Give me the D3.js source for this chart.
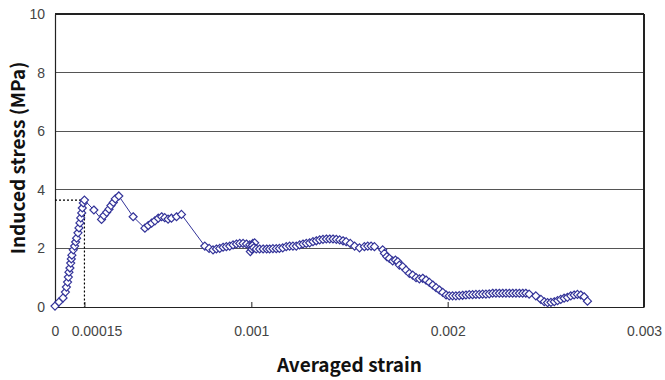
<!DOCTYPE html>
<html>
<head>
<meta charset="utf-8">
<script src="https://cdn.jsdelivr.net/npm/d3@7"></script>
<style>
  html, body { margin: 0; padding: 0; background: #fff; }
  svg { display: block; }
</style>
</head>
<body>
<svg id="chart" width="665" height="380"></svg>
<script>
// Averaged strain (x) and induced stress in MPa (y), in test order
const strain = [
  0, 0.000020, 0.000041, 0.000053, 0.000058, 0.000064, 0.000068, 0.000071, 0.000076, 0.000080,
  0.000083, 0.000086, 0.000093, 0.000100, 0.000105, 0.000110, 0.000117, 0.000122, 0.000127, 0.000131,
  0.000136, 0.000139, 0.000144, 0.000150,
  0.000198, 0.000237, 0.000249, 0.000263, 0.000275, 0.000285, 0.000297, 0.000307, 0.000325,
  0.000398, 0.000458, 0.000475, 0.000492, 0.000509, 0.000526, 0.000543, 0.000559, 0.000576, 0.000593,
  0.000619, 0.000644,
  0.000763, 0.000785, 0.000805, 0.000822, 0.000839, 0.000856, 0.000873, 0.000890, 0.000907, 0.000924,
  0.000941, 0.000958, 0.000975, 0.000992, 0.001008, 0.001017, 0.001005, 0.000995, 0.001003, 0.001012,
  0.001025, 0.001042, 0.001060, 0.001078, 0.001093, 0.001110, 0.001127, 0.001143, 0.001160, 0.001178,
  0.001195, 0.001212, 0.001229, 0.001246, 0.001263, 0.001280, 0.001297, 0.001314, 0.001331, 0.001348,
  0.001365, 0.001382, 0.001399, 0.001416, 0.001433, 0.001450, 0.001467, 0.001483, 0.001504, 0.001526,
  0.001551, 0.001576, 0.001593, 0.001610, 0.001627,
  0.001669, 0.001678, 0.001690, 0.001703, 0.001720, 0.001734, 0.001746, 0.001754, 0.001771, 0.001788,
  0.001805, 0.001822, 0.001839, 0.001856, 0.001873, 0.001890, 0.001907, 0.001924, 0.001941, 0.001958,
  0.001975, 0.001992,
  0.002008, 0.002025, 0.002042, 0.002059, 0.002076, 0.002093, 0.002110, 0.002127, 0.002144, 0.002161,
  0.002178, 0.002195, 0.002212, 0.002229, 0.002246, 0.002263, 0.002280, 0.002297, 0.002314, 0.002331,
  0.002348, 0.002365, 0.002382, 0.002398, 0.002415, 0.002449, 0.002475, 0.002492, 0.002509, 0.002526,
  0.002543, 0.002560, 0.002576, 0.002593, 0.002610, 0.002627, 0.002644, 0.002661, 0.002678, 0.002695,
  0.002712
];
const stress = [
  0.03, 0.17, 0.31, 0.51, 0.68, 0.85, 1.02, 1.19, 1.33, 1.50,
  1.64, 1.77, 1.95, 2.08, 2.22, 2.35, 2.53, 2.70, 2.87, 3.04,
  3.21, 3.38, 3.55, 3.65,
  3.31, 2.99, 3.12, 3.23, 3.34, 3.46, 3.57, 3.69, 3.79,
  3.08, 2.69, 2.78, 2.86, 2.94, 3.03, 3.08, 3.05, 3.00, 3.03,
  3.08, 3.16,
  2.08, 2.00, 1.95, 1.98, 2.00, 2.04, 2.06, 2.08, 2.12, 2.15,
  2.17, 2.17, 2.15, 2.12, 2.17, 2.19, 2.10, 1.89, 1.97, 2.02,
  1.98, 1.98, 1.98, 1.98, 1.98, 1.99, 1.99, 2.00, 2.02, 2.06,
  2.08, 2.08, 2.08, 2.12, 2.15, 2.17, 2.19, 2.23, 2.26, 2.29,
  2.31, 2.32, 2.32, 2.32, 2.31, 2.29, 2.26, 2.23, 2.17, 2.08,
  2.02, 2.06, 2.08, 2.08, 2.06,
  1.95, 1.83, 1.72, 1.66, 1.57, 1.60, 1.55, 1.43, 1.38, 1.26,
  1.15, 1.09, 1.00, 0.96, 0.98, 0.92, 0.84, 0.75, 0.66, 0.58,
  0.50, 0.41,
  0.38, 0.38, 0.38, 0.39, 0.40, 0.41, 0.42, 0.42, 0.43, 0.43,
  0.44, 0.44, 0.45, 0.47, 0.47, 0.47, 0.47, 0.47, 0.47, 0.47,
  0.47, 0.47, 0.47, 0.47, 0.44, 0.38, 0.26, 0.18, 0.15, 0.16,
  0.18, 0.22, 0.26, 0.30, 0.33, 0.38, 0.41, 0.43, 0.41, 0.35,
  0.20
];

// Axis ticks and the marked peak (strain at peak, peak stress)
const xTicks = [0, 0.00015, 0.001, 0.002, 0.003];
const xTickLabels = ["0", "0.00015", "0.001", "0.002", "0.003"];
const yTicks = [0, 2, 4, 6, 8, 10];
const peakStrain = 0.00015;
const peakStress = 3.65;

const data = strain.map((s, i) => ({ x: s, y: stress[i] }));

const svg = d3.select("#chart");
const margin = { left: 55, top: 14, right: 21, bottom: 73 };
const W = 665, H = 380;
const x = d3.scaleLinear().domain([0, 0.003]).range([margin.left, W - margin.right]);
const y = d3.scaleLinear().domain([0, 10]).range([H - margin.bottom, margin.top]);

const navy = "#333399";
const labelFont = "'Liberation Sans', Arial, sans-serif";
const titleFont = "'Noto Sans CJK KR', 'Noto Sans', sans-serif";

// Horizontal gridlines
svg.append("g")
  .selectAll("line")
  .data(yTicks.filter(v => v > 0 && v < 10))
  .join("line")
  .attr("x1", x(0)).attr("x2", x(0.003))
  .attr("y1", d => y(d)).attr("y2", d => y(d))
  .attr("stroke", "#555").attr("stroke-width", 1.2)
  .attr("shape-rendering", "crispEdges");

// Plot frame: top and right borders
svg.append("line")
  .attr("x1", x(0)).attr("x2", x(0.003))
  .attr("y1", y(10)).attr("y2", y(10))
  .attr("stroke", "#222").attr("stroke-width", 1.2).attr("shape-rendering", "crispEdges");
svg.append("line")
  .attr("x1", x(0.003)).attr("x2", x(0.003))
  .attr("y1", y(10)).attr("y2", y(0))
  .attr("stroke", "#222").attr("stroke-width", 1.2).attr("shape-rendering", "crispEdges");

// X axis with inward ticks
const xAxis = svg.append("g")
  .attr("transform", `translate(0,${y(0)})`)
  .call(d3.axisBottom(x).tickValues(xTicks).tickSizeInner(-5).tickSizeOuter(0)
    .tickFormat((d, i) => xTickLabels[i]).tickPadding(19));
xAxis.select(".domain").attr("stroke", "#222").attr("stroke-width", 1.2);
xAxis.selectAll(".tick line").attr("stroke", "#222");
xAxis.selectAll(".tick text")
  .attr("font-family", labelFont).attr("font-size", 14).attr("fill", "#444")
  .attr("dx", d => d === 0.00015 ? 12 : 0);

// Y axis
const yAxis = svg.append("g")
  .attr("transform", `translate(${x(0)},0)`)
  .call(d3.axisLeft(y).tickValues(yTicks).tickSize(0).tickPadding(10).tickFormat(d3.format("d")));
yAxis.select(".domain").attr("stroke", "#222").attr("stroke-width", 1.2);
yAxis.selectAll(".tick text")
  .attr("font-family", labelFont).attr("font-size", 14).attr("fill", "#444");

// Dotted guide lines to the first peak
svg.append("path")
  .attr("d", `M${x(0)},${y(peakStress)}H${x(peakStrain)}V${y(0)}`)
  .attr("fill", "none").attr("stroke", "#000").attr("stroke-width", 1.2)
  .attr("stroke-dasharray", "2,2");

// Connecting line
svg.append("path")
  .datum(data)
  .attr("d", d3.line().x(d => x(d.x)).y(d => y(d.y)))
  .attr("fill", "none").attr("stroke", navy).attr("stroke-width", 1);

// Hollow diamond markers
const r = 4;
svg.append("g")
  .selectAll("path")
  .data(data)
  .join("path")
  .attr("transform", d => `translate(${x(d.x)},${y(d.y)})`)
  .attr("d", `M0,${-r}L${r},0L0,${r}L${-r},0Z`)
  .attr("fill", "#fff").attr("stroke", navy).attr("stroke-width", 1.2);

// Axis titles
svg.append("text")
  .attr("x", (x(0) + x(0.003)) / 2).attr("y", 372)
  .attr("text-anchor", "middle")
  .attr("font-family", titleFont)
  .attr("font-weight", "bold").attr("font-size", 19).attr("fill", "#111")
  .text("Averaged strain");
svg.append("text")
  .attr("transform", `translate(25,158) rotate(-90)`)
  .attr("text-anchor", "middle")
  .attr("font-family", titleFont)
  .attr("font-weight", "bold").attr("font-size", 19).attr("fill", "#111")
  .text("Induced stress (MPa)");
</script>
</body>
</html>
